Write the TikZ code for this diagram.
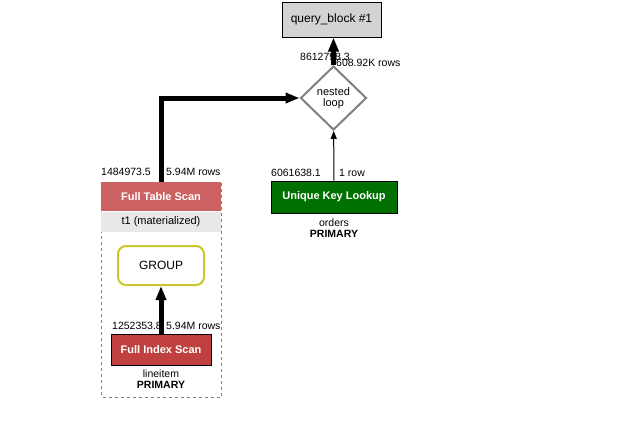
\documentclass[tikz,border=0pt]{standalone}
\usepackage{fontspec}
\setmainfont{Liberation Sans}
\usepackage{tikz}
\usepackage{xcolor}
\usetikzlibrary{positioning}
\usetikzlibrary{shapes.geometric}
\usetikzlibrary{arrows.meta}
\definecolor{qgray}{RGB}{211,211,211}
\definecolor{scanred}{RGB}{205,98,98}
\definecolor{idxred}{RGB}{192,64,64}
\definecolor{keygreen}{RGB}{0,112,0}
\definecolor{grpolive}{RGB}{200,200,40}
\definecolor{bandgray}{RGB}{232,232,232}
\tikzstyle{qblock}=[draw=black, fill=qgray, line width=1pt, minimum width=99pt, minimum height=35pt, inner sep=0pt, font=\fontsize{12}{14}\selectfont]
\tikzstyle{access}=[draw=black, line width=1pt, inner sep=0pt, text=white, font=\fontsize{11}{13}\selectfont\bfseries]
\tikzstyle{loopop}=[diamond, draw=gray, fill=white, line width=2pt, inner sep=0pt, minimum width=66pt, minimum height=64pt, align=center, font=\fontsize{11}{11.5}\selectfont]
\tikzstyle{rows}=[anchor=west, inner sep=0pt, font=\fontsize{10.5}{12}\selectfont]
\tikzstyle{under}=[inner sep=0pt, align=center, font=\fontsize{10.5}{11.5}\selectfont]
\tikzstyle{fat}=[-{Triangle[length=14pt, width=10pt]}, line width=5pt]
\tikzstyle{slim}=[-{Triangle[length=8pt, width=6pt]}, line width=1pt]

\begin{document}
\begin{tikzpicture}[x=1pt, y=-1pt, node distance = 0pt]
    \useasboundingbox (0,0) rectangle (629,423);

    % materialized table frame
    \draw[gray, dashed, line width=0.8pt] (101.5,182) rectangle (221,397);

    \node[qblock] (qblock) at (331.5,19.5) {query\_block \#1};
    \node[loopop] (loop)   at (333.5,98)   {nested\\loop};

    \node[access, draw=none, fill=scanred, minimum width=120pt, minimum height=29pt] (tblscan) at (161,196.5) {Full Table Scan};
    \node[fill=bandgray, minimum width=120pt, minimum height=20pt, inner sep=0pt, font=\fontsize{11}{13}\selectfont] (band) [below = of tblscan] {t1 (materialized)};

    \node[draw=grpolive, line width=2pt, rounded corners=8pt, minimum width=86pt, minimum height=39pt, inner sep=0pt, font=\fontsize{12}{14}\selectfont] (group) at (161,265.5) {GROUP};

    \node[access, fill=idxred, minimum width=100pt, minimum height=31pt] (idxscan) at (161,349.5) {Full Index Scan};
    \node[under] (idxtab) at (161,379) {lineitem\\\textbf{PRIMARY}};

    \node[access, fill=keygreen, minimum width=126pt, minimum height=32pt] (keylook) at (334,197) {Unique Key Lookup};
    \node[under] (keytab) at (334,228) {orders\\\textbf{PRIMARY}};

    % cost and row labels
    \node[rows] (tblcost) at (101,172) {1484973.5};
    \node[rows] (tblrows) at (166,172) {5.94M rows};
    \node[rows] (idxcost) at (112,325.5) {1252353.8};
    \node[rows] (idxrows) at (166,325.5) {5.94M rows};
    \node[rows] (keycost) at (271,172.5) {6061638.1};
    \node[rows] (keyrows) at (339,172.5) {1 row};
    \node[rows] (loopcost) at (300,57) {8612798.3};
    \node[rows] (looprows) at (336,62.5) {608.92K rows};

    \draw[fat] (idxscan) -- (group);
    \draw[fat] (tblscan.north) |- (loop.west);
    \draw[slim] (keylook) -- (loop);
    \draw[fat] (loop.north) -- (loop.north |- qblock.south);
\end{tikzpicture}
\end{document}
